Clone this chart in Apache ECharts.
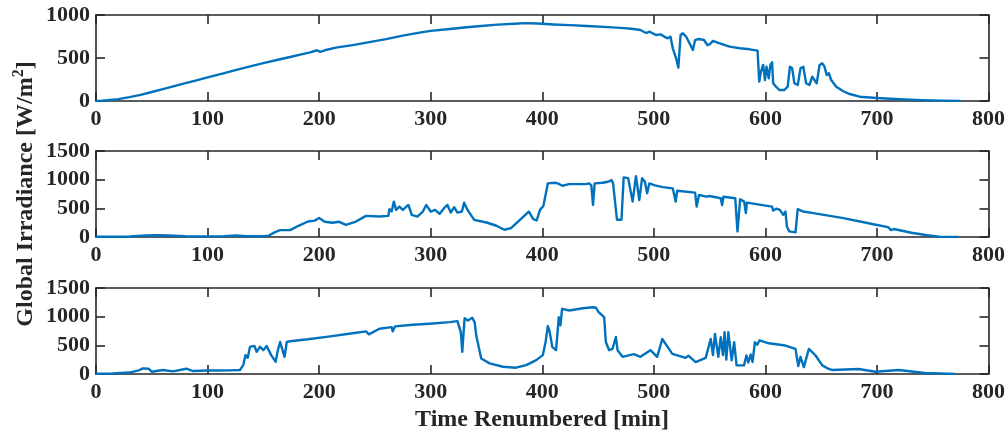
<!DOCTYPE html>
<html>
<head>
<meta charset="utf-8">
<script src="https://cdn.jsdelivr.net/npm/echarts@6/dist/echarts.min.js"></script>
<style>
  html, body { margin: 0; padding: 0; background: #ffffff; }
  #chart { width: 1008px; height: 433px; }
</style>
</head>
<body>
<div id="chart"></div>
<script>
// Global irradiance for three days, [minute, W/m^2]
const dayClear = [
  [0,0],[5,3],[10,8],[20,22],[30,45],[40,72],[50,105],[60,138],[75,190],[90,240],[100,275],
  [115,325],[125,360],[140,408],[150,440],[165,485],[175,515],[185,545],[192,565],[198,590],
  [201,572],[205,590],[215,620],[230,650],[245,685],[260,720],[275,760],[290,795],[300,815],
  [315,835],[330,855],[345,872],[360,888],[375,898],[385,905],[395,902],[400,898],[410,890],
  [425,882],[440,872],[455,862],[470,850],[480,840],[488,826],[493,790],[496,806],[502,767],
  [506,775],[512,729],[515,748],[517,613],[520,497],[522,388],[524,767],[526,787],[529,748],
  [532,671],[533,690],[535,593],[537,709],[540,721],[545,709],[548,651],[550,659],[553,698],
  [559,671],[568,632],[577,613],[586,601],[593,585],[594.5,225],[596,341],[598,419],[599.6,244],
  [601,399],[603,264],[604.5,419],[606,450],[607,206],[609.5,166],[612.5,128],[617,128],[620,166],
  [622,399],[624,380],[626,206],[629,186],[631.5,380],[634,399],[636.5,206],[639.5,186],[642,283],
  [644,244],[646,206],[648.6,419],[651,438],[653,399],[655,302],[657,322],[659,244],[663.5,166],
  [669.5,116],[675.5,81],[684.5,50],[700,35],[720,20],[740,10],[760,4],[775,1]
];

const dayVariable = [
  [0,5],[15,5],[30,10],[45,25],[55,30],[65,25],[80,12],[100,10],[115,15],[125,25],[135,12],
  [150,12],[155,25],[160,80],[165,120],[174,120],[182,200],[190,270],[196,285],[200,330],
  [205,265],[212,248],[218,265],[224,213],[233,270],[242,369],[254,357],[262,369],[263,485],
  [265,444],[267,617],[269,473],[272,530],[275,473],[280,559],[283,386],[288,357],[293,444],
  [296,559],[300,444],[304,473],[308,404],[312,502],[315,559],[318,426],[321,520],[324,426],
  [328,444],[330,599],[333,473],[339,300],[350,253],[359,196],[366,126],[372,156],[380,300],
  [388,444],[392,312],[395,288],[398,473],[401,542],[405,935],[411,946],[414,935],[418,894],
  [424,923],[439,923],[442,935],[444,900],[445.5,559],[447,935],[454,946],[459,963],[462,992],
  [463.5,935],[467,300],[471,300],[473,1039],[477,1027],[481,617],[484,1062],[487,646],
  [489.5,1027],[492,963],[494,762],[496,935],[501,900],[508,870],[517,849],[519.6,617],[521,807],
  [537,773],[538.4,530],[540.5,733],[547,703],[550,715],[560,675],[561.2,559],[562.4,703],
  [573,675],[575,97],[577.4,658],[581,617],[582.5,416],[583.4,599],[606,530],[607,461],[610,495],
  [613,473],[616,386],[618,444],[619.3,184],[621.4,97],[627,80],[629,485],[634,444],[643,416],
  [670,330],[699,213],[710,173],[712.6,120],[715,139],[731,75],[745,30],[756,5],[773,0]
];

const dayCloudy = [
  [0,5],[15,10],[30,25],[39,69],[42,98],[47,92],[50,40],[60,69],[69,45],[81,92],[87,52],
  [100,60],[110,60],[120,63],[129,69],[132,156],[134,329],[136,282],[138,473],[142,490],
  [144,386],[147,473],[150,415],[153,490],[157,329],[161,213],[163,415],[165,559],[169,300],
  [171,559],[174,571],[190,605],[210,657],[230,710],[242,744],[244.6,692],[254,790],[265,818],
  [266,744],[268,830],[284,860],[299,877],[317,905],[324,922],[327,732],[328.3,386],[330.4,974],
  [333.4,934],[337.3,980],[339.4,905],[340.8,675],[342.3,690],[345.3,271],[352.8,185],
  [364.7,127],[376.6,110],[385.6,156],[394.6,242],[400.5,329],[403,559],[405,836],[406.5,750],
  [409,473],[412.4,415],[414.8,991],[416.3,848],[417.8,1137],[424.3,1107],[436.3,1147],
  [445.2,1165],[448,1160],[450.5,1078],[455.5,991],[457,559],[460,415],[463,440],[466,646],
  [467.5,415],[472,300],[482,346],[488,300],[497,415],[503,300],[507.6,611],[513.6,438],
  [516.6,351],[528.5,282],[531,320],[537.5,208],[546.5,282],[551,611],[553,330],[554.8,697],
  [557.8,300],[560,640],[562,330],[563.4,727],[565,250],[566.8,727],[569.8,237],[572,554],
  [574.2,150],[580.8,150],[583,323],[584.7,200],[586.8,340],[588.5,210],[590.6,554],[592.7,510],
  [594.8,588],[603,536],[618,496],[627,438],[629.5,138],[631.5,300],[634.5,121],[639,438],
  [645,323],[651,150],[656.4,92],[660,69],[683.6,87],[698.6,40],[719.5,69],[743,17],[770,0]
];

const seriesData = [dayClear, dayVariable, dayCloudy];
const yMaxes = [1000, 1500, 1500];
const xTicks = { min: 0, max: 800, interval: 100 };
const yInterval = 500;

const ink = '#262626';
const lineBlue = '#0072BD';
const fontFamily = '"Liberation Serif", "Times New Roman", serif';
const labelFont = { fontFamily, fontWeight: 'bold', fontSize: 22, color: ink };
const plainNumber = v => String(v);

const gridTops = [15, 151, 288];
const gridHeight = 86;

const chart = echarts.init(document.getElementById('chart'), null, { renderer: 'canvas' });

const grids = [], xAxes = [], yAxes = [], series = [];
gridTops.forEach((top, i) => {
  grids.push({ left: 96, width: 894, top, height: gridHeight, containLabel: false });
  const axisLine = { show: true, onZero: false, lineStyle: { color: ink, width: 1.6 } };
  const axisTick = { show: true, inside: true, length: 9, lineStyle: { color: ink, width: 1.6 } };
  // bottom axis with labels, top axis with ticks only
  xAxes.push({
    type: 'value', gridIndex: i, position: 'bottom', ...xTicks,
    axisLine, axisTick, splitLine: { show: false },
    axisLabel: { ...labelFont, margin: 7, formatter: plainNumber }
  });
  xAxes.push({
    type: 'value', gridIndex: i, position: 'top', ...xTicks,
    axisLine, axisTick, splitLine: { show: false }, axisLabel: { show: false }
  });
  yAxes.push({
    type: 'value', gridIndex: i, position: 'left', min: 0, max: yMaxes[i], interval: yInterval,
    axisLine, axisTick, splitLine: { show: false },
    axisLabel: { ...labelFont, margin: 6, formatter: plainNumber }
  });
  yAxes.push({
    type: 'value', gridIndex: i, position: 'right', min: 0, max: yMaxes[i], interval: yInterval,
    axisLine, axisTick, splitLine: { show: false }, axisLabel: { show: false }
  });
  series.push({
    type: 'line', xAxisIndex: i * 2, yAxisIndex: i * 2,
    data: seriesData[i], showSymbol: false, smooth: false,
    lineStyle: { color: lineBlue, width: 2.4, join: 'round' }, animation: false
  });
});

chart.setOption({
  backgroundColor: '#ffffff',
  animation: false,
  grid: grids,
  xAxis: xAxes,
  yAxis: yAxes,
  series,
  graphic: [
    {
      type: 'text', x: 26, y: 194, rotation: Math.PI / 2,
      style: {
        text: '{a|Global Irradiance [W/m}{s|2}{a|]}',
        align: 'center', verticalAlign: 'middle',
        rich: {
          a: { fontFamily, fontWeight: 'bold', fontSize: 24, fill: ink, lineHeight: 30 },
          s: { fontFamily, fontWeight: 'bold', fontSize: 16, fill: ink, lineHeight: 30, verticalAlign: 'top', padding: [0, 0, 12, 0] }
        }
      }
    },
    {
      type: 'text', x: 542, y: 420,
      style: {
        text: 'Time Renumbered [min]', fontFamily, fontWeight: 'bold', fontSize: 24,
        fill: ink, align: 'center', verticalAlign: 'middle'
      }
    }
  ]
});
</script>
</body>
</html>
